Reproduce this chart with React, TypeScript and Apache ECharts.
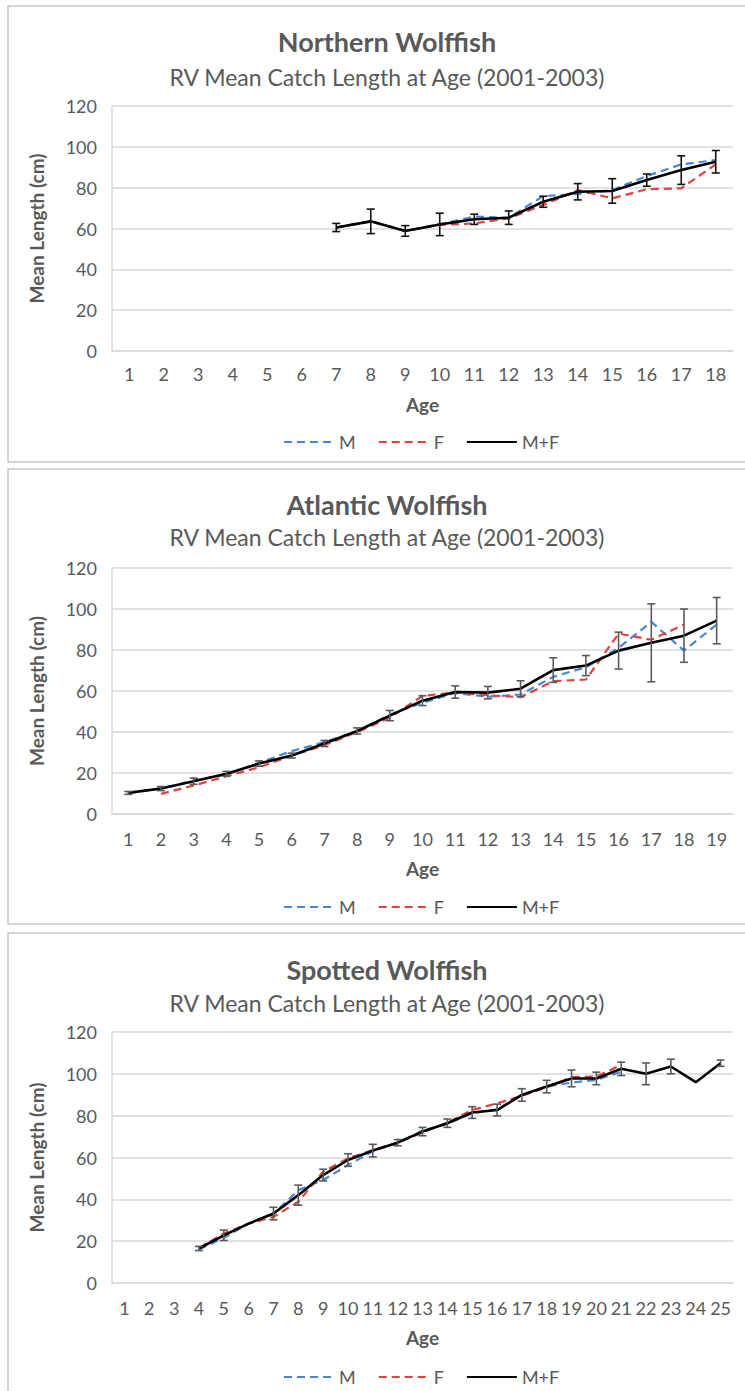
import React, { useEffect, useRef } from "react";
import * as echarts from "echarts";

// Ages on each panel's category axis
const ages1 = Array.from({ length: 18 }, (_, i) => String(i + 1));
const ages2 = Array.from({ length: 19 }, (_, i) => String(i + 1));
const ages3 = Array.from({ length: 25 }, (_, i) => String(i + 1));

const yTicks = { min: 0, max: 120, interval: 20 };

// Northern Wolffish (cm)
const north_M = [null, null, null, null, null, null, 60.5, 63.5, 58.8, 62.2, 65.8, 65.3, 75.9, 76.9, 78.8, 85.7, 91.4, 93.5];
const north_F = [null, null, null, null, null, null, 60.5, 63.5, 58.8, 61.8, 62.5, 65.0, 71.5, 78.8, 74.8, 79.2, 79.7, 91.4];
const north_MF = [null, null, null, null, null, null, 60.5, 63.5, 58.8, 62.0, 64.5, 65.3, 73.1, 78.0, 78.4, 83.7, 88.6, 92.7];
const north_err = [null, null, null, null, null, null, 2.0, 6.0, 2.6, 5.5, 2.5, 3.3, 2.7, 4.0, 6.0, 3.0, 7.0, 5.5];

// Atlantic Wolffish (cm)
const atl_M = [10.3, 12.4, 16.3, 19.2, 25.0, 30.7, 35.1, 40.3, 48.5, 54.3, 59.0, 57.2, 58.3, 66.9, 71.6, 81.0, 93.7, 79.7, 92.4];
const atl_F = [null, 9.8, 13.9, 18.4, 22.8, 28.5, 33.6, 40.0, 47.0, 57.6, 59.3, 57.9, 57.0, 64.8, 65.6, 88.0, 85.0, 92.4, null];
const atl_MF = [10.3, 12.4, 16.0, 19.6, 24.6, 28.5, 34.4, 40.5, 48.0, 55.3, 59.5, 59.2, 61.1, 70.2, 72.4, 79.7, 83.5, 87.0, 94.3];
const atl_err = [0.7, 1.0, 1.5, 1.2, 1.3, 1.2, 1.5, 1.5, 2.5, 2.4, 3.0, 3.0, 3.9, 6.0, 4.9, 9.0, 19.0, 13.0, 11.3];

// Spotted Wolffish (cm)
const spot_M = [null, null, null, 16.0, 21.6, 28.4, 32.9, 44.4, 49.2, 56.4, 63.0, 67.3, 72.8, 76.2, 81.2, 83.0, 89.9, 93.9, 95.8, 97.1, 101.0, null, null, null, null];
const spot_F = [null, null, null, 16.8, 23.6, 28.4, 31.6, 38.8, 53.2, 59.6, 63.5, 67.0, 72.0, 76.6, 82.7, 85.9, 89.5, 93.5, 98.4, 98.7, 104.3, null, null, null, null];
const spot_MF = [null, null, null, 16.5, 22.8, 28.4, 33.2, 42.0, 51.6, 58.8, 63.3, 67.1, 72.4, 76.4, 81.5, 82.7, 89.9, 93.9, 97.8, 97.8, 102.4, 100.0, 103.5, 96.0, 105.1];
const spot_err = [null, null, null, 1.0, 2.5, null, 3.0, 4.8, 2.8, 3.0, 3.0, 1.5, 2.0, 2.0, 2.8, 2.8, 3.0, 3.0, 4.0, 3.0, 3.2, 5.2, 3.5, null, 1.5];

const titles = ["Northern Wolffish", "Atlantic Wolffish", "Spotted Wolffish"];
const subtitle = "RV Mean Catch Length at Age (2001-2003)";
const legendNames = ["M", "F", "M+F"];

const FONT = "Lato";
const TEXT = "#595959";
const GRIDLINE = "#d9d9d9";
const BLUE = "#4a86d6";
const RED = "#e0413c";

type Panel = {
  ages: string[];
  m: (number | null)[];
  f: (number | null)[];
  mf: (number | null)[];
  err: (number | null)[];
  errColor: string;
  gridTop: number;
  gridHeight: number;
  titleTop: number;
  subTop: number;
  legendTop: number;
  labelMargin: number;
  nameGap: number;
  panelY: number;
  panelH: number;
};

const panels: Panel[] = [
  { ages: ages1, m: north_M, f: north_F, mf: north_MF, err: north_err, errColor: "#111", gridTop: 106, gridHeight: 245, titleTop: 23, subTop: 60, legendTop: 428, labelMargin: 14, nameGap: 44, panelY: 6, panelH: 456 },
  { ages: ages2, m: atl_M, f: atl_F, mf: atl_MF, err: atl_err, errColor: "#5a5a5a", gridTop: 568, gridHeight: 246, titleTop: 486, subTop: 520, legendTop: 893, labelMargin: 16, nameGap: 45, panelY: 469, panelH: 455 },
  { ages: ages3, m: spot_M, f: spot_F, mf: spot_MF, err: spot_err, errColor: "#5a5a5a", gridTop: 1032, gridHeight: 251, titleTop: 951, subTop: 986, legendTop: 1363, labelMargin: 16, nameGap: 45, panelY: 933, panelH: 500 },
];

function buildOption() {
  const title: any[] = [];
  const grid: any[] = [];
  const xAxis: any[] = [];
  const yAxis: any[] = [];
  const legend: any[] = [];
  const series: any[] = [];
  const graphic: any[] = [];

  panels.forEach((p, i) => {
    graphic.push({
      type: "rect",
      shape: { x: 8, y: p.panelY, width: 760, height: p.panelH },
      style: { fill: "#fff", stroke: "#c8c8c8", lineWidth: 1.5 },
      z: -10,
      silent: true,
    });
    title.push({
      text: titles[i],
      left: 382,
      textAlign: "center",
      top: p.titleTop,
      textStyle: { fontFamily: FONT, fontSize: 27, fontWeight: "bold", color: TEXT },
    });
    title.push({
      text: subtitle,
      left: 382,
      textAlign: "center",
      top: p.subTop,
      textStyle: { fontFamily: FONT, fontSize: 23, fontWeight: "normal", color: TEXT },
    });
    grid.push({ left: 112, right: 12, top: p.gridTop, height: p.gridHeight });
    xAxis.push({
      type: "category",
      gridIndex: i,
      data: p.ages,
      boundaryGap: true,
      axisTick: { show: false },
      axisLine: { lineStyle: { color: GRIDLINE, width: 1.5 } },
      axisLabel: { interval: 0, margin: p.labelMargin, fontFamily: FONT, fontSize: 18, color: TEXT },
      name: "Age",
      nameLocation: "middle",
      nameGap: p.nameGap,
      nameTextStyle: { fontFamily: FONT, fontSize: 19, fontWeight: "bold", color: TEXT },
    });
    yAxis.push({
      type: "value",
      gridIndex: i,
      ...yTicks,
      axisLine: { show: true, lineStyle: { color: GRIDLINE, width: 1.5 } },
      axisTick: { show: false },
      splitLine: { lineStyle: { color: GRIDLINE, width: 1.5 } },
      axisLabel: { margin: 15, fontFamily: FONT, fontSize: 18, color: TEXT },
      name: "Mean Length (cm)",
      nameLocation: "middle",
      nameGap: 66,
      nameTextStyle: { fontFamily: FONT, fontSize: 19, fontWeight: "bold", color: TEXT },
    });
    legend.push({
      data: legendNames,
      top: p.legendTop,
      left: 278,
      itemWidth: 50,
      itemHeight: 12,
      itemGap: 22,
      itemStyle: { opacity: 0 },
      textStyle: { fontFamily: FONT, fontSize: 18, color: TEXT },
      selectedMode: false,
    });

    const lineBase = { xAxisIndex: i, yAxisIndex: i, type: "line", symbol: "none", connectNulls: false, silent: true };
    series.push({ ...lineBase, name: "M", data: p.m, color: BLUE, lineStyle: { color: BLUE, width: 2.2, type: [8, 5] }, z: 2 });
    series.push({ ...lineBase, name: "F", data: p.f, color: RED, lineStyle: { color: RED, width: 2.2, type: [8, 5] }, z: 3 });
    series.push({ ...lineBase, name: "M+F", data: p.mf, color: "#000", lineStyle: { color: "#000", width: 2.6 }, z: 4 });

    const errData = p.mf
      .map((v, k) => (v != null && p.err[k] != null ? [k, v - (p.err[k] as number), v + (p.err[k] as number)] : null))
      .filter((d) => d !== null);
    const errColor = p.errColor;
    series.push({
      type: "custom",
      name: "err" + i,
      xAxisIndex: i,
      yAxisIndex: i,
      silent: true,
      z: 5,
      data: errData,
      renderItem: (params: any, api: any) => {
        const x = api.value(0);
        const lo = api.coord([x, api.value(1)]);
        const hi = api.coord([x, api.value(2)]);
        const cap = 4;
        const style = { stroke: errColor, lineWidth: 1.6 };
        return {
          type: "group",
          children: [
            { type: "line", shape: { x1: lo[0], y1: lo[1], x2: hi[0], y2: hi[1] }, style },
            { type: "line", shape: { x1: hi[0] - cap, y1: hi[1], x2: hi[0] + cap, y2: hi[1] }, style },
            { type: "line", shape: { x1: lo[0] - cap, y1: lo[1], x2: lo[0] + cap, y2: lo[1] }, style },
          ],
        };
      },
    });
  });

  return { animation: false, backgroundColor: "#fff", title, grid, xAxis, yAxis, legend, series, graphic };
}

export default function App() {
  const ref = useRef<HTMLDivElement>(null);
  useEffect(() => {
    if (!ref.current) return;
    const chart = echarts.init(ref.current, undefined, { renderer: "svg" });
    chart.setOption(buildOption() as any);
    return () => chart.dispose();
  }, []);
  return <div ref={ref} style={{ position: "absolute", left: 0, top: 0, width: 745, height: 1391 }} />;
}
